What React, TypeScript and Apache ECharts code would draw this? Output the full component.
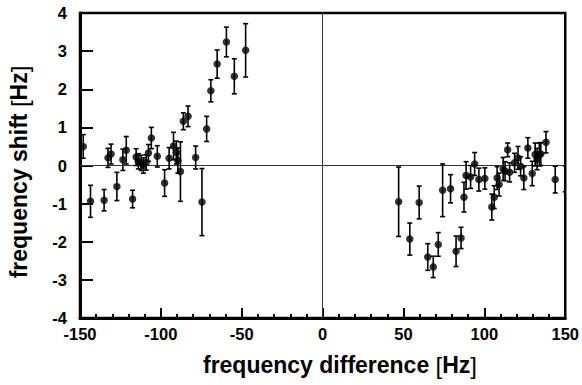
import React, { useEffect, useRef } from "react";
import * as echarts from "echarts";

// frequency difference [Hz]
const freqDiff = [
  -148, -143.5, -135.1, -132.7, -130.8, -127.2, -123.5, -121.4, -117.5, -115.3,
  -113.9, -112.2, -110.8, -109.1, -107.7, -105.9, -102.2, -97.7, -94.9, -92.2,
  -90.4, -89.5, -87.9, -86.1, -83.2, -78.5, -74.6, -71.7, -69.1, -65.2, -59.5,
  -54.6, -47.6,
  47.0, 53.9, 59.7, 65.0, 68.4, 71.5, 74.2, 79.1, 82.5, 85.6, 87.4, 88.7, 91.5,
  94.0, 96.6, 100.3, 104.6, 106.1, 107.9, 109.1, 111.6, 112.8, 114.4, 115.6,
  118.7, 120.8, 122.4, 124.4, 126.9, 129.6, 131.4, 132.6, 134.0, 134.9, 138.1,
  143.8,
];
// frequency shift [Hz]
const freqShift = [
  0.5, -0.94, -0.91, 0.2, 0.3, -0.55, 0.15, 0.4, -0.88, 0.22,
  0.11, 0.07, 0.0, 0.08, 0.33, 0.72, 0.24, -0.46, 0.19, 0.51,
  0.34, 0.13, -0.16, 1.16, 1.29, 0.21, -0.96, 0.96, 1.96, 2.66, 3.24,
  2.34, 3.02,
  -0.95, -1.93, -0.97, -2.4, -2.66, -2.07, -0.65, -0.61, -2.25, -1.9, -0.83, -0.26, -0.3,
  0.04, -0.37, -0.34, -1.09, -0.83, -0.33, -0.5, -0.09, -0.15, 0.41, -0.18,
  0.07, 0.2, -0.02, -0.33, 0.46, -0.21, 0.29, 0.17, 0.29, 0.3, 0.61,
  -0.37,
];
// error (half-length of error bar) [Hz]
const shiftErr = [
  0.31, 0.42, 0.28, 0.25, 0.26, 0.37, 0.28, 0.36, 0.23, 0.22,
  0.2, 0.2, 0.2, 0.2, 0.22, 0.28, 0.28, 0.35, 0.28, 0.36,
  0.3, 0.33, 0.78, 0.22, 0.27, 0.3, 0.88, 0.33, 0.29, 0.37, 0.39,
  0.46, 0.7,
  0.91, 0.42, 0.43, 0.35, 0.28, 0.31, 0.69, 0.37, 0.4, 0.28, 0.39, 0.36, 0.3,
  0.3, 0.3, 0.28, 0.34, 0.3, 0.3, 0.3, 0.3, 0.25, 0.18, 0.25,
  0.25, 0.3, 0.25, 0.3, 0.27, 0.32, 0.3, 0.28, 0.3, 0.3, 0.28,
  0.35,
];
// point at the right edge (only its error bar is visible)
const edgeDiff = [150];
const edgeShift = [-0.35];
const edgeErr = [0.34];

const xTicks = [-150, -100, -50, 0, 50, 100, 150];
const yTicks = [-4, -3, -2, -1, 0, 1, 2, 3, 4];

const xTitle = ["frequency difference ", "[", "Hz", "]"];
const yTitle = ["frequency shift ", "[", "Hz", "]"];

const FONT = "'Liberation Sans', Arial, Helvetica, sans-serif";

const titleRich = {
  b: { fontFamily: FONT, fontWeight: "bold", fontSize: 23, fill: "#000" },
  n: { fontFamily: FONT, fontWeight: "normal", fontSize: 24, fill: "#000" },
};
const richText = (p: string[]) => `{b|${p[0]}}{n|${p[1]}}{b|${p[2]}}{n|${p[3]}}`;

export default function App() {
  const ref = useRef<HTMLDivElement>(null);
  useEffect(() => {
    if (!ref.current) return;
    const chart = echarts.init(ref.current, undefined, { renderer: "svg" });
    const points = freqDiff.map((x, i) => [x, freqShift[i]]);
    const bars = freqDiff
      .map((x, i) => [x, freqShift[i], shiftErr[i]])
      .concat(edgeDiff.map((x, i) => [x, edgeShift[i], edgeErr[i]]));

    chart.setOption({
      animation: false,
      grid: {
        left: 80,
        right: 13,
        top: 13,
        bottom: 67,
        show: true,
        borderColor: "#000",
        borderWidth: 2.5,
        backgroundColor: "transparent",
      },
      graphic: [
        {
          type: "text",
          x: 340,
          y: 365,
          style: {
            text: richText(xTitle),
            rich: titleRich,
            align: "center",
            verticalAlign: "middle",
          },
        },
        {
          type: "text",
          x: 19,
          y: 172,
          rotation: Math.PI / 2,
          style: {
            text: richText(yTitle),
            rich: titleRich,
            align: "center",
            verticalAlign: "middle",
          },
        },
      ],
      xAxis: {
        type: "value",
        min: xTicks[0],
        max: xTicks[xTicks.length - 1],
        interval: 50,
        axisLine: { show: true, onZero: false, lineStyle: { color: "#000", width: 3 } },
        axisTick: { show: true, inside: true, length: 10, lineStyle: { color: "#000", width: 2 } },
        minorTick: { show: true, splitNumber: 5, length: 4, lineStyle: { color: "#000", width: 2 } },
        splitLine: { show: false },
        axisLabel: {
          fontFamily: FONT,
          fontWeight: "bold",
          fontSize: 16.5,
          color: "#000",
          margin: 7,
        },
      },
      yAxis: {
        type: "value",
        min: yTicks[0],
        max: yTicks[yTicks.length - 1],
        interval: 1,
        axisLine: { show: true, onZero: false, lineStyle: { color: "#000", width: 3 } },
        axisTick: { show: true, inside: true, length: 13, lineStyle: { color: "#000", width: 2 } },
        splitLine: { show: false },
        axisLabel: {
          fontFamily: FONT,
          fontWeight: "bold",
          fontSize: 16.5,
          color: "#000",
          margin: 13,
        },
      },
      series: [
        {
          type: "custom",
          clip: true,
          data: bars,
          renderItem: (params: any, api: any) => {
            const x = api.value(0);
            const y = api.value(1);
            const e = api.value(2);
            const top = api.coord([x, y + e]);
            const bot = api.coord([x, y - e]);
            const hw = 2.5;
            const style = { stroke: "#000", lineWidth: 1.6, fill: "none" };
            return {
              type: "group",
              children: [
                { type: "line", shape: { x1: top[0], y1: top[1], x2: bot[0], y2: bot[1] }, style },
                { type: "line", shape: { x1: top[0] - hw, y1: top[1], x2: top[0] + hw, y2: top[1] }, style },
                { type: "line", shape: { x1: bot[0] - hw, y1: bot[1], x2: bot[0] + hw, y2: bot[1] }, style },
              ],
            };
          },
          z: 3,
        },
        {
          type: "scatter",
          data: points,
          symbol: "circle",
          symbolSize: 7.5,
          itemStyle: { color: "#000" },
          z: 4,
          markLine: {
            silent: true,
            symbol: "none",
            label: { show: false },
            lineStyle: { color: "#333", width: 1, type: "solid" },
            data: [{ xAxis: 0 }, { yAxis: 0 }],
            z: 1,
          },
        },
      ],
    });
    return () => chart.dispose();
  }, []);
  return (
    <div
      ref={ref}
      style={{ position: "absolute", left: 0, top: 0, width: 582, height: 385 }}
    />
  );
}
